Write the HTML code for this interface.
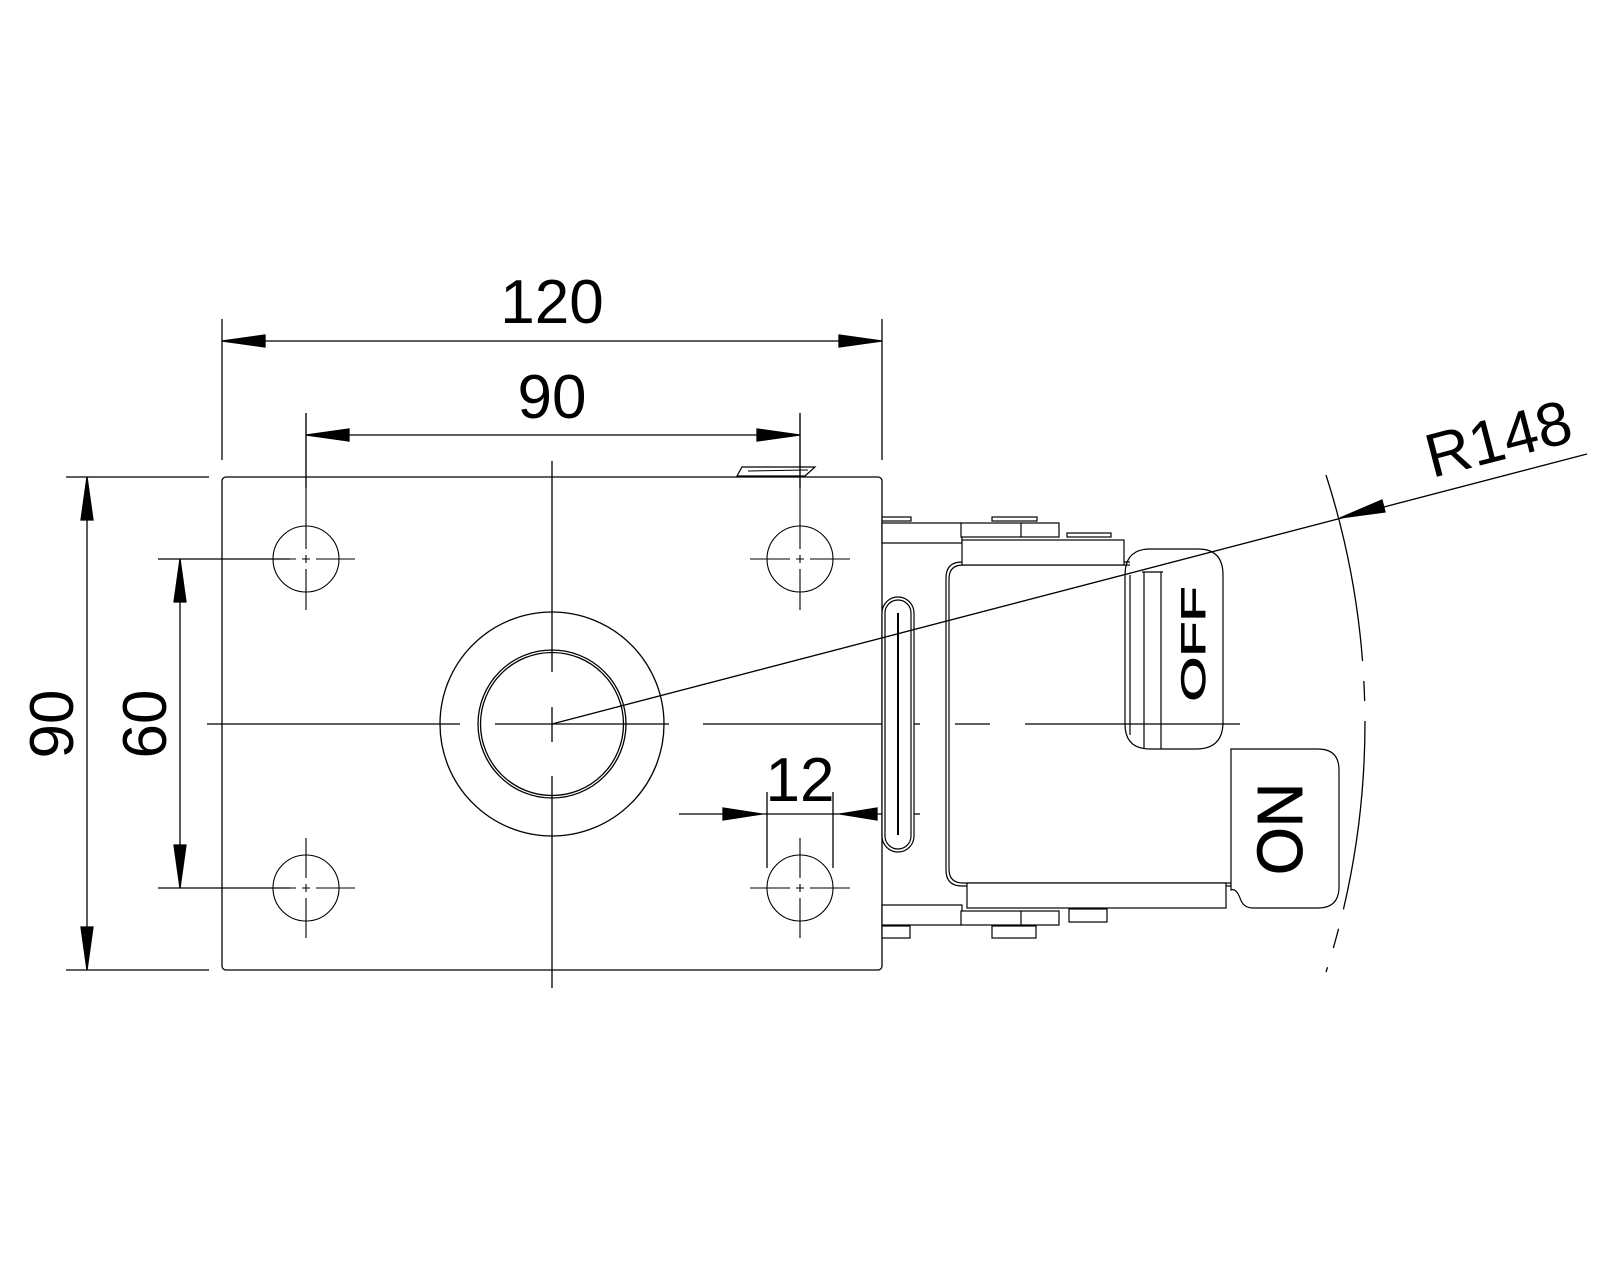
<!DOCTYPE html>
<html><head><meta charset="utf-8"><style>
html,body{margin:0;padding:0;background:#fff;}
svg{display:block;}
text{font-family:"Liberation Sans",sans-serif;fill:#000;}
</style></head><body>
<svg width="1600" height="1280" viewBox="0 0 1600 1280" xmlns="http://www.w3.org/2000/svg" fill="none" stroke="#000" stroke-width="1.3">
<rect x="222" y="477" width="660" height="493" rx="4"/>
<path d="M742,467 L815,467 L805,476 L737,476 Z" stroke-width="1.2"/>
<path d="M748,471 L808,470" stroke-width="1"/>
<path d="M552,461 V672 M552,707 V742 M552,776 V988"/>
<circle cx="552" cy="724" r="112"/>
<circle cx="552" cy="724" r="74"/>
<circle cx="552" cy="724" r="71.5"/>
<g stroke-width="1.1">
<circle cx="306" cy="559" r="33"/><circle cx="800" cy="559" r="33"/>
<circle cx="306" cy="888" r="33"/><circle cx="800" cy="888" r="33"/>
<path d="M158,559 H296 M302,559 H310 M316,559 H355"/>
<path d="M750,559 H790 M796,559 H804 M810,559 H850"/>
<path d="M158,888 H296 M302,888 H310 M316,888 H355"/>
<path d="M750,888 H790 M796,888 H804 M810,888 H850"/>
<path d="M306,413 V549 M306,555 V563 M306,569 V610"/>
<path d="M800,413 V549 M800,555 V563 M800,569 V610"/>
<path d="M306,838 V878 M306,884 V892 M306,898 V938"/>
<path d="M800,838 V878 M800,884 V892 M800,898 V938"/>
</g>
<path d="M222,319 V460 M882,319 V460 M222,341 H882"/>
<path d="M222,341 L265,335 L265,347 Z M882,341 L839,335 L839,347 Z" fill="#000"/>
<text x="552" y="323" font-size="62" text-anchor="middle" stroke="none">120</text>
<path d="M306,413 V488 M800,413 V488 M306,435 H800"/>
<path d="M306,435 L349,429 L349,441 Z M800,435 L757,429 L757,441 Z" fill="#000"/>
<text x="552" y="418" font-size="62" text-anchor="middle" stroke="none">90</text>
<path d="M66,477 H209 M66,970 H209 M87,477 V970"/>
<path d="M87,477 L81,520 L93,520 Z M87,970 L81,927 L93,927 Z" fill="#000"/>
<text transform="translate(73,724) rotate(-90)" font-size="62" text-anchor="middle" stroke="none">90</text>
<path d="M158,559 H290 M158,888 H290 M180,559 V888"/>
<path d="M180,559 L174,602 L186,602 Z M180,888 L174,845 L186,845 Z" fill="#000"/>
<text transform="translate(166,724) rotate(-90)" font-size="62" text-anchor="middle" stroke="none">60</text>
<path d="M767,792 V868 M833,792 V868 M679,814 H920"/>
<path d="M762,814 L723,808 L723,820 Z M840,814 L877,808 L877,820 Z" fill="#000"/>
<text x="800" y="801" font-size="62" text-anchor="middle" stroke="none">12</text>
<path d="M1326,475 A812,812 0 0 1 1326,972" stroke-dasharray="190,20,20,20"/>
<text transform="translate(1432,478) rotate(-14.6)" font-size="62" stroke="none">R148</text>
<g stroke-width="1.2" fill="#fff">
<rect x="882" y="517" width="29" height="4"/>
<rect x="992" y="517" width="45" height="4"/>
<rect x="1067" y="533" width="44" height="4"/>
<rect x="882" y="523" width="80" height="20"/>
<rect x="961" y="523" width="98" height="14"/>
<path d="M1021,523 V537" fill="none"/>
<rect x="882" y="905" width="80" height="20"/>
<rect x="961" y="911" width="98" height="14"/>
<path d="M1021,911 V925" fill="none"/>
<rect x="882" y="926" width="28" height="12"/>
<rect x="992" y="926" width="44" height="12"/>
<rect x="1069" y="909" width="38" height="13"/>
<rect x="946" y="562" width="290" height="324" rx="16" stroke="none"/>
<path d="M1130,562 H962 Q946,562 946,578 V870 Q946,886 962,886 H1231" fill="none"/>
<path d="M1130,565 H963 Q949,565 949,579 V869 Q949,883 963,883 H1231" fill="none"/>
<rect x="962" y="540" width="162" height="25"/>
<rect x="967" y="883" width="259" height="25"/>
</g>
<!-- horizontal centerline over body -->
<path d="M207,724 H460 M495,724 H669 M703,724 H920 M955,724 H990 M1025,724 H1240"/>
<g stroke-width="1.2" fill="#fff">
<rect x="882" y="597" width="32" height="255" rx="16"/>
<rect x="885" y="600" width="26" height="249" rx="13" fill="none"/>
<path d="M898,613 V835" stroke-width="2" fill="none"/>
<path d="M1150,549 H1198 Q1223,549 1223,575 V722 Q1223,749 1196,749 H1150 Q1125,749 1125,724 V575 Q1125,549 1150,549 Z" fill="none"/>
<path d="M1130,575 V735 M1144,572 V749 M1161,572 V749 M1142,572 H1163" fill="none"/>
<path d="M1231,749 H1318 Q1339,749 1339,770 V887 Q1339,908 1318,908 H1253 Q1243,908 1240,898 Q1236,888 1231,890 Z"/>
</g>
<text transform="translate(1205,644) rotate(-90)" font-size="34" text-anchor="middle" textLength="115" lengthAdjust="spacingAndGlyphs" fill="#fff" stroke="#000" stroke-width="0.9">OFF</text>
<text transform="translate(1302,829) rotate(-90)" font-size="64" text-anchor="middle" textLength="92" lengthAdjust="spacingAndGlyphs" fill="#fff" stroke="#000" stroke-width="0.9">ON</text>
<path d="M552,724 L1587,454"/>
<path d="M1340,518 L1382,500 L1385,512 Z" fill="#000"/>
</svg>
</body></html>
